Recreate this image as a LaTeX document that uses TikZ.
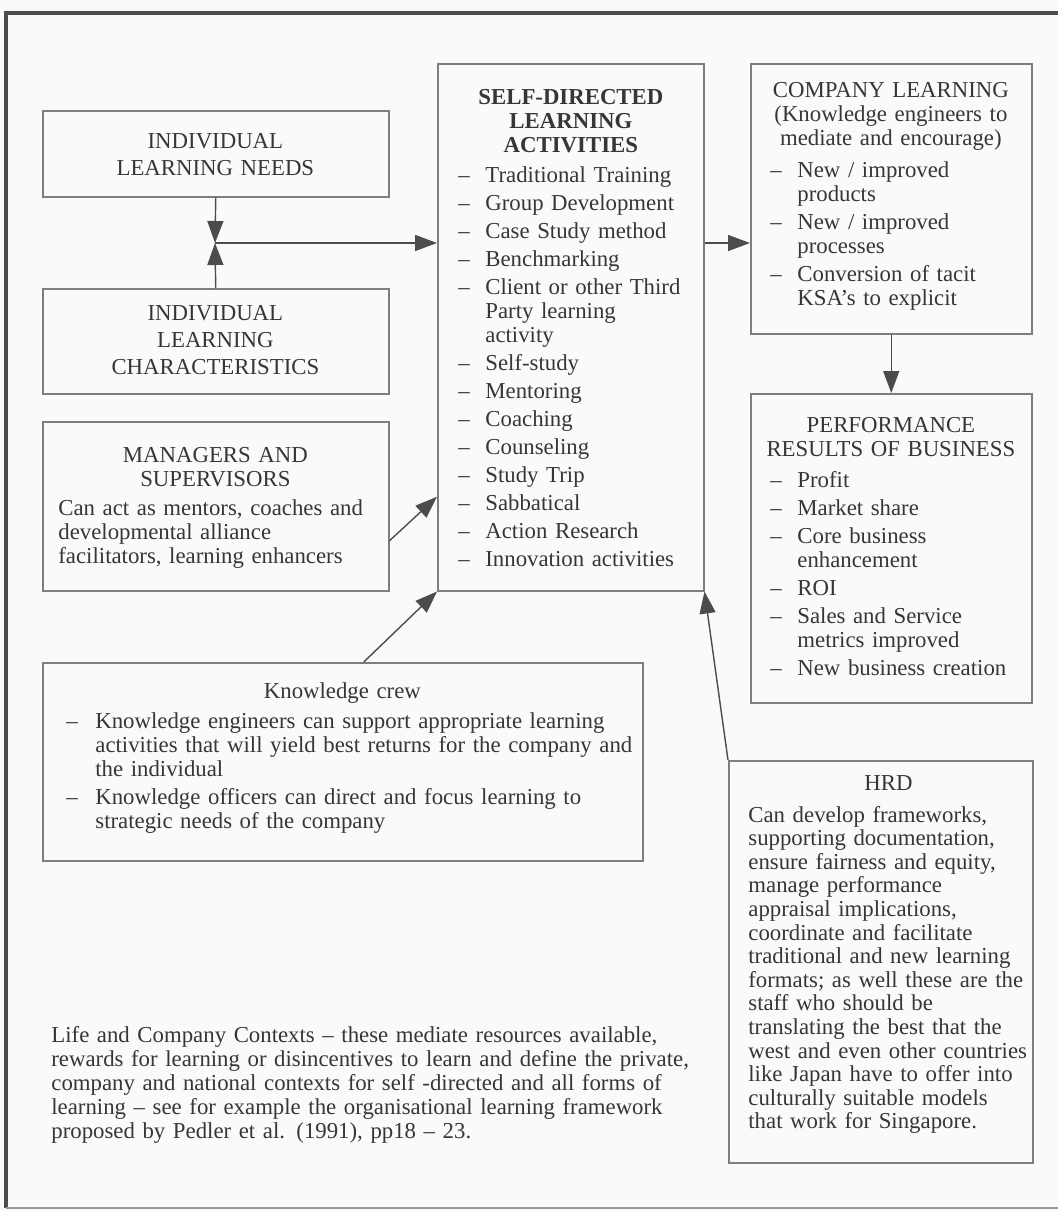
\documentclass[tikz,border=0pt]{standalone}
\usepackage{fontspec}
\setmainfont{Liberation Serif}
\usepackage{xcolor}
\usetikzlibrary{arrows.meta}
\definecolor{paper}{HTML}{FAFAFA}
\definecolor{ink}{HTML}{363636}
\definecolor{boxgray}{HTML}{7E7E7E}
\newcommand{\ttl}[2][\linewidth]{\makebox[#1][c]{#2}}
\newcommand{\itm}[2][13.5pt]{\par\vspace{2pt}\hangindent=#1\hangafter=1\noindent\makebox[#1][l]{--}#2\par}

\begin{document}
\begin{tikzpicture}[x=0.5pt,y=-0.5pt,
  box/.style={draw=boxgray,line width=0.75pt,anchor=north west,inner sep=0pt},
  txt/.style={anchor=base west,inner sep=0pt,align=left,text=ink,font=\fontsize{11.4}{12}\selectfont},
  caps/.style={txt,font=\fontsize{11.4}{13.5}\selectfont},
  arr/.style={draw=black!70,line width=0.7pt,-{Triangle[length=11pt,width=8pt]}}]
  \useasboundingbox (0,0) rectangle (1058,1211);
  \fill[paper] (0,0) rectangle (1058,1211);
  % outer frame
  \draw[black!70,line width=1.6pt] (6,1208) -- (6,13) -- (1075,13);
  \draw[black!40,line width=1pt] (6,1208) -- (1075,1208);

  % left column
  \node[box,minimum width=173pt,minimum height=43pt] (needs) at (42,110) {};
  \node[caps,text width=153pt] (needs-t) at (62,148.5)
    {\ttl{INDIVIDUAL}\par\ttl{LEARNING NEEDS}};
  \node[box,minimum width=173pt,minimum height=52.5pt] (chars) at (42,288) {};
  \node[caps,text width=153pt] (chars-t) at (62,320.5)
    {\ttl{INDIVIDUAL}\par\ttl{LEARNING}\par\ttl{CHARACTERISTICS}};
  \node[box,minimum width=173pt,minimum height=84.5pt] (mgr) at (42,421) {};
  \node[txt,text width=157pt] (mgr-t) at (58,462.5)
    {\ttl{MANAGERS AND}\par\ttl{SUPERVISORS}\par\vspace{2.25pt}
     Can act as mentors, coaches and\\developmental alliance\\facilitators, learning enhancers};

  % centre column
  \node[box,minimum width=133pt,minimum height=263.5pt] (sdl) at (437,63) {};
  \node[txt,text width=112.5pt] (sdl-t) at (458,104.5)
    {\bfseries\ttl{SELF-DIRECTED}\par\ttl{LEARNING}\par\ttl{ACTIVITIES}\par\vspace{0.75pt}\mdseries
     \itm{Traditional Training}
     \itm{Group Development}
     \itm{Case Study method}
     \itm{Benchmarking}
     \itm{Client or other Third\newline Party learning\newline activity}
     \itm{Self-study}
     \itm{Mentoring}
     \itm{Coaching}
     \itm{Counseling}
     \itm{Study Trip}
     \itm{Sabbatical}
     \itm{Action Research}
     \itm{Innovation activities}};

  % right column
  \node[box,minimum width=140.5pt,minimum height=135pt] (company) at (750,63) {};
  \node[txt,text width=120.5pt] (company-t) at (770,97.5)
    {\ttl{COMPANY LEARNING}\par\ttl{(Knowledge engineers to}\par\ttl{mediate and encourage)}\par\vspace{1.75pt}
     \itm{New / improved\newline products}
     \itm{New / improved\newline processes}
     \itm{Conversion of tacit\newline KSA’s to explicit}};
  \node[box,minimum width=140.5pt,minimum height=154.5pt] (perf) at (750,393) {};
  \node[txt,text width=120.5pt] (perf-t) at (770,432.5)
    {\ttl{PERFORMANCE}\par\ttl{RESULTS OF BUSINESS}\par\vspace{1.25pt}
     \itm{Profit}
     \itm{Market share}
     \itm{Core business\newline enhancement}
     \itm{ROI}
     \itm{Sales and Service\newline metrics improved}
     \itm{New business creation}};

  % lower boxes
  \node[box,minimum width=300pt,minimum height=99pt] (kc) at (42,662) {};
  \node[txt,text width=290pt] (kc-t) at (66,698)
    {\ttl[276pt]{Knowledge crew}\par\vspace{1pt}
     \itm[14.5pt]{Knowledge engineers can support appropriate learning\newline activities that will yield best returns for the company and\newline the individual}
     \itm[14.5pt]{Knowledge officers can direct and focus learning to\newline strategic needs of the company}};
  \node[box,minimum width=152pt,minimum height=201pt] (hrd) at (728,760) {};
  \node[txt,text width=140pt,font=\fontsize{11.4}{11.8}\selectfont] (hrd-t) at (748,790.5)
    {\ttl{HRD}\par\vspace{4pt}
     Can develop frameworks,\\supporting documentation,\\ensure fairness and equity,\\manage performance\\
     appraisal implications,\\coordinate and facilitate\\traditional and new learning\\
     formats; as well these are the\\staff who should be\\translating the best that the\\
     west and even other countries\\like Japan have to offer into\\culturally suitable models\\
     that work for Singapore.};

  \node[txt,text width=340pt] (ctx) at (51,1042)
    {Life and Company Contexts -- these mediate resources available,\\
     rewards for learning or disincentives to learn and define the private,\\
     company and national contexts for self -directed and all forms of\\
     learning -- see for example the organisational learning framework\\
     proposed by Pedler et al. (1991), pp18 -- 23.};

  % connectors
  \coordinate (jn) at (215,243);
  \draw[arr] (needs.south) -- (jn);
  \draw[arr] (chars.north) -- (jn);
  \draw[arr] (jn) -- (jn -| sdl.west);
  \draw[arr] (sdl.east |- jn) -- (company.west |- jn);
  \draw[arr] (company.south) -- (perf.north);
  \draw[arr] ([yshift=-17.25pt]mgr.east) -- ([yshift=-84.75pt]sdl.west);
  \draw[arr] ([xshift=10.5pt]kc.north) -- (sdl.south west);
  \draw[arr] (hrd.north west) -- (sdl.south east);
\end{tikzpicture}
\end{document}
